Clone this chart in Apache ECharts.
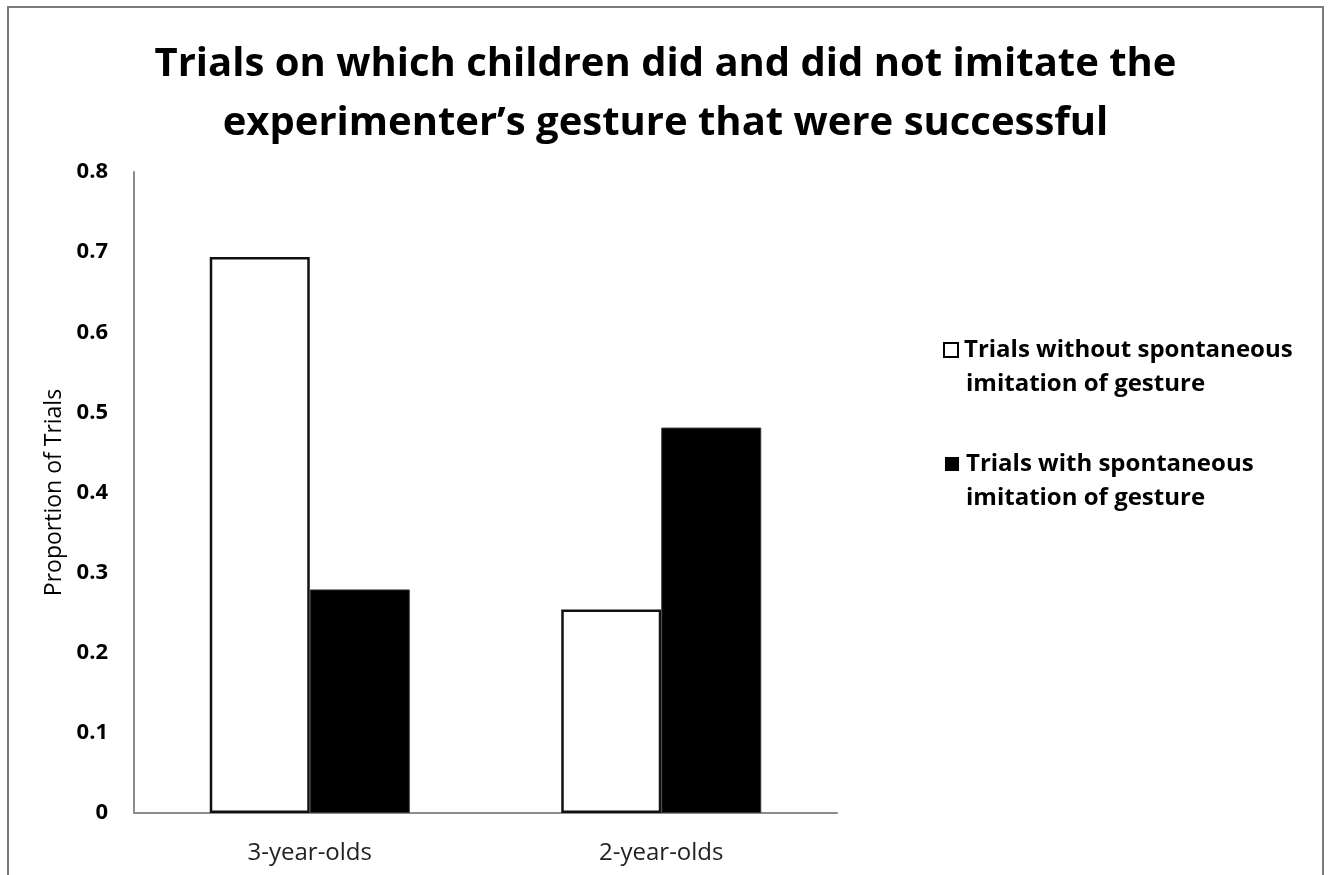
<!DOCTYPE html>
<html>
<head>
<meta charset="utf-8">
<script src="https://cdn.jsdelivr.net/npm/echarts@6/dist/echarts.min.js"></script>
<style>
  html, body { margin: 0; padding: 0; background: #fff; }
  #chart { width: 1331px; height: 875px; }
</style>
</head>
<body>
<div id="chart"></div>
<script>
// Age groups along the x axis
const categories = ['3-year-olds', '2-year-olds'];
// Proportion of successful trials, per condition
const withoutImitation = [0.694, 0.254];
const withImitation = [0.279, 0.481];
// Series names (shown in the legend)
const seriesNames = [
  'Trials without spontaneous\nimitation of gesture',
  'Trials with spontaneous\nimitation of gesture'
];
const titleText = 'Trials on which children did and did not imitate the\nexperimenter\u2019s gesture that were successful';
const yAxisName = 'Proportion of Trials';

const FONT = '"Open Sans", Lato, sans-serif';

const chart = echarts.init(document.getElementById('chart'), null, { renderer: 'canvas' });

chart.setOption({
  backgroundColor: '#fff',
  animation: false,
  title: {
    text: titleText,
    left: 'center',
    top: 30,
    textStyle: {
      fontFamily: FONT,
      fontWeight: 'bold',
      fontSize: 40,
      lineHeight: 59,
      color: '#000'
    }
  },
  graphic: [{
    type: 'rect',
    shape: { x: 8, y: 7, width: 1315, height: 890 },
    style: { fill: 'none', stroke: '#7a7a7a', lineWidth: 2 },
    silent: true
  }],
  legend: {
    orient: 'vertical',
    left: 935,
    top: 333,
    icon: 'none',
    itemWidth: 0,
    itemHeight: 0,
    itemGap: 56,
    selectedMode: false,
    data: seriesNames,
    formatter: function (name) {
      const lines = name.split('\n');
      const first = name === seriesNames[0] ? 'w' : 'b';
      return '{' + first + '|}{sp|}{t|' + lines[0] + '}\n{pad|}{sp|}{t|' + lines[1] + '}';
    },
    textStyle: {
      fontFamily: FONT,
      rich: {
        w: { width: 12, height: 12, backgroundColor: '#fff', borderColor: '#000', borderWidth: 2 },
        b: { width: 14, height: 14, backgroundColor: '#000' },
        sp: { width: 7 },
        pad: { width: 14 },
        t: { fontFamily: FONT, fontWeight: 'bold', fontSize: 24, lineHeight: 34, color: '#000' }
      }
    }
  },
  grid: { left: 134, right: 494, top: 172, bottom: 62, containLabel: false },
  xAxis: {
    type: 'category',
    data: categories,
    axisLine: { show: true, lineStyle: { color: '#8c8c8c', width: 2 } },
    axisTick: { show: false },
    axisLabel: { fontFamily: FONT, fontSize: 24, color: '#222', margin: 28 }
  },
  yAxis: {
    type: 'value',
    min: 0,
    max: 0.8,
    interval: 0.1,
    name: yAxisName,
    nameLocation: 'middle',
    nameGap: 68,
    nameRotate: 90,
    nameTextStyle: { fontFamily: FONT, fontSize: 23, color: '#000' },
    axisLine: { show: true, lineStyle: { color: '#8c8c8c', width: 2 } },
    axisTick: { show: false },
    splitLine: { show: false },
    axisLabel: {
      fontFamily: FONT,
      fontWeight: 'bold',
      fontSize: 22,
      color: '#000',
      margin: 26,
      formatter: v => (Math.round(v * 10) / 10).toString()
    }
  },
  series: [
    {
      name: seriesNames[0],
      type: 'bar',
      data: withoutImitation,
      barWidth: 100,
      barGap: '0%',
      itemStyle: { color: '#fff', borderColor: '#111', borderWidth: 2.5 }
    },
    {
      name: seriesNames[1],
      type: 'bar',
      data: withImitation,
      barWidth: 100,
      barGap: '0%',
      itemStyle: { color: '#000', borderColor: '#333', borderWidth: 1 }
    }
  ]
});
</script>
</body>
</html>
